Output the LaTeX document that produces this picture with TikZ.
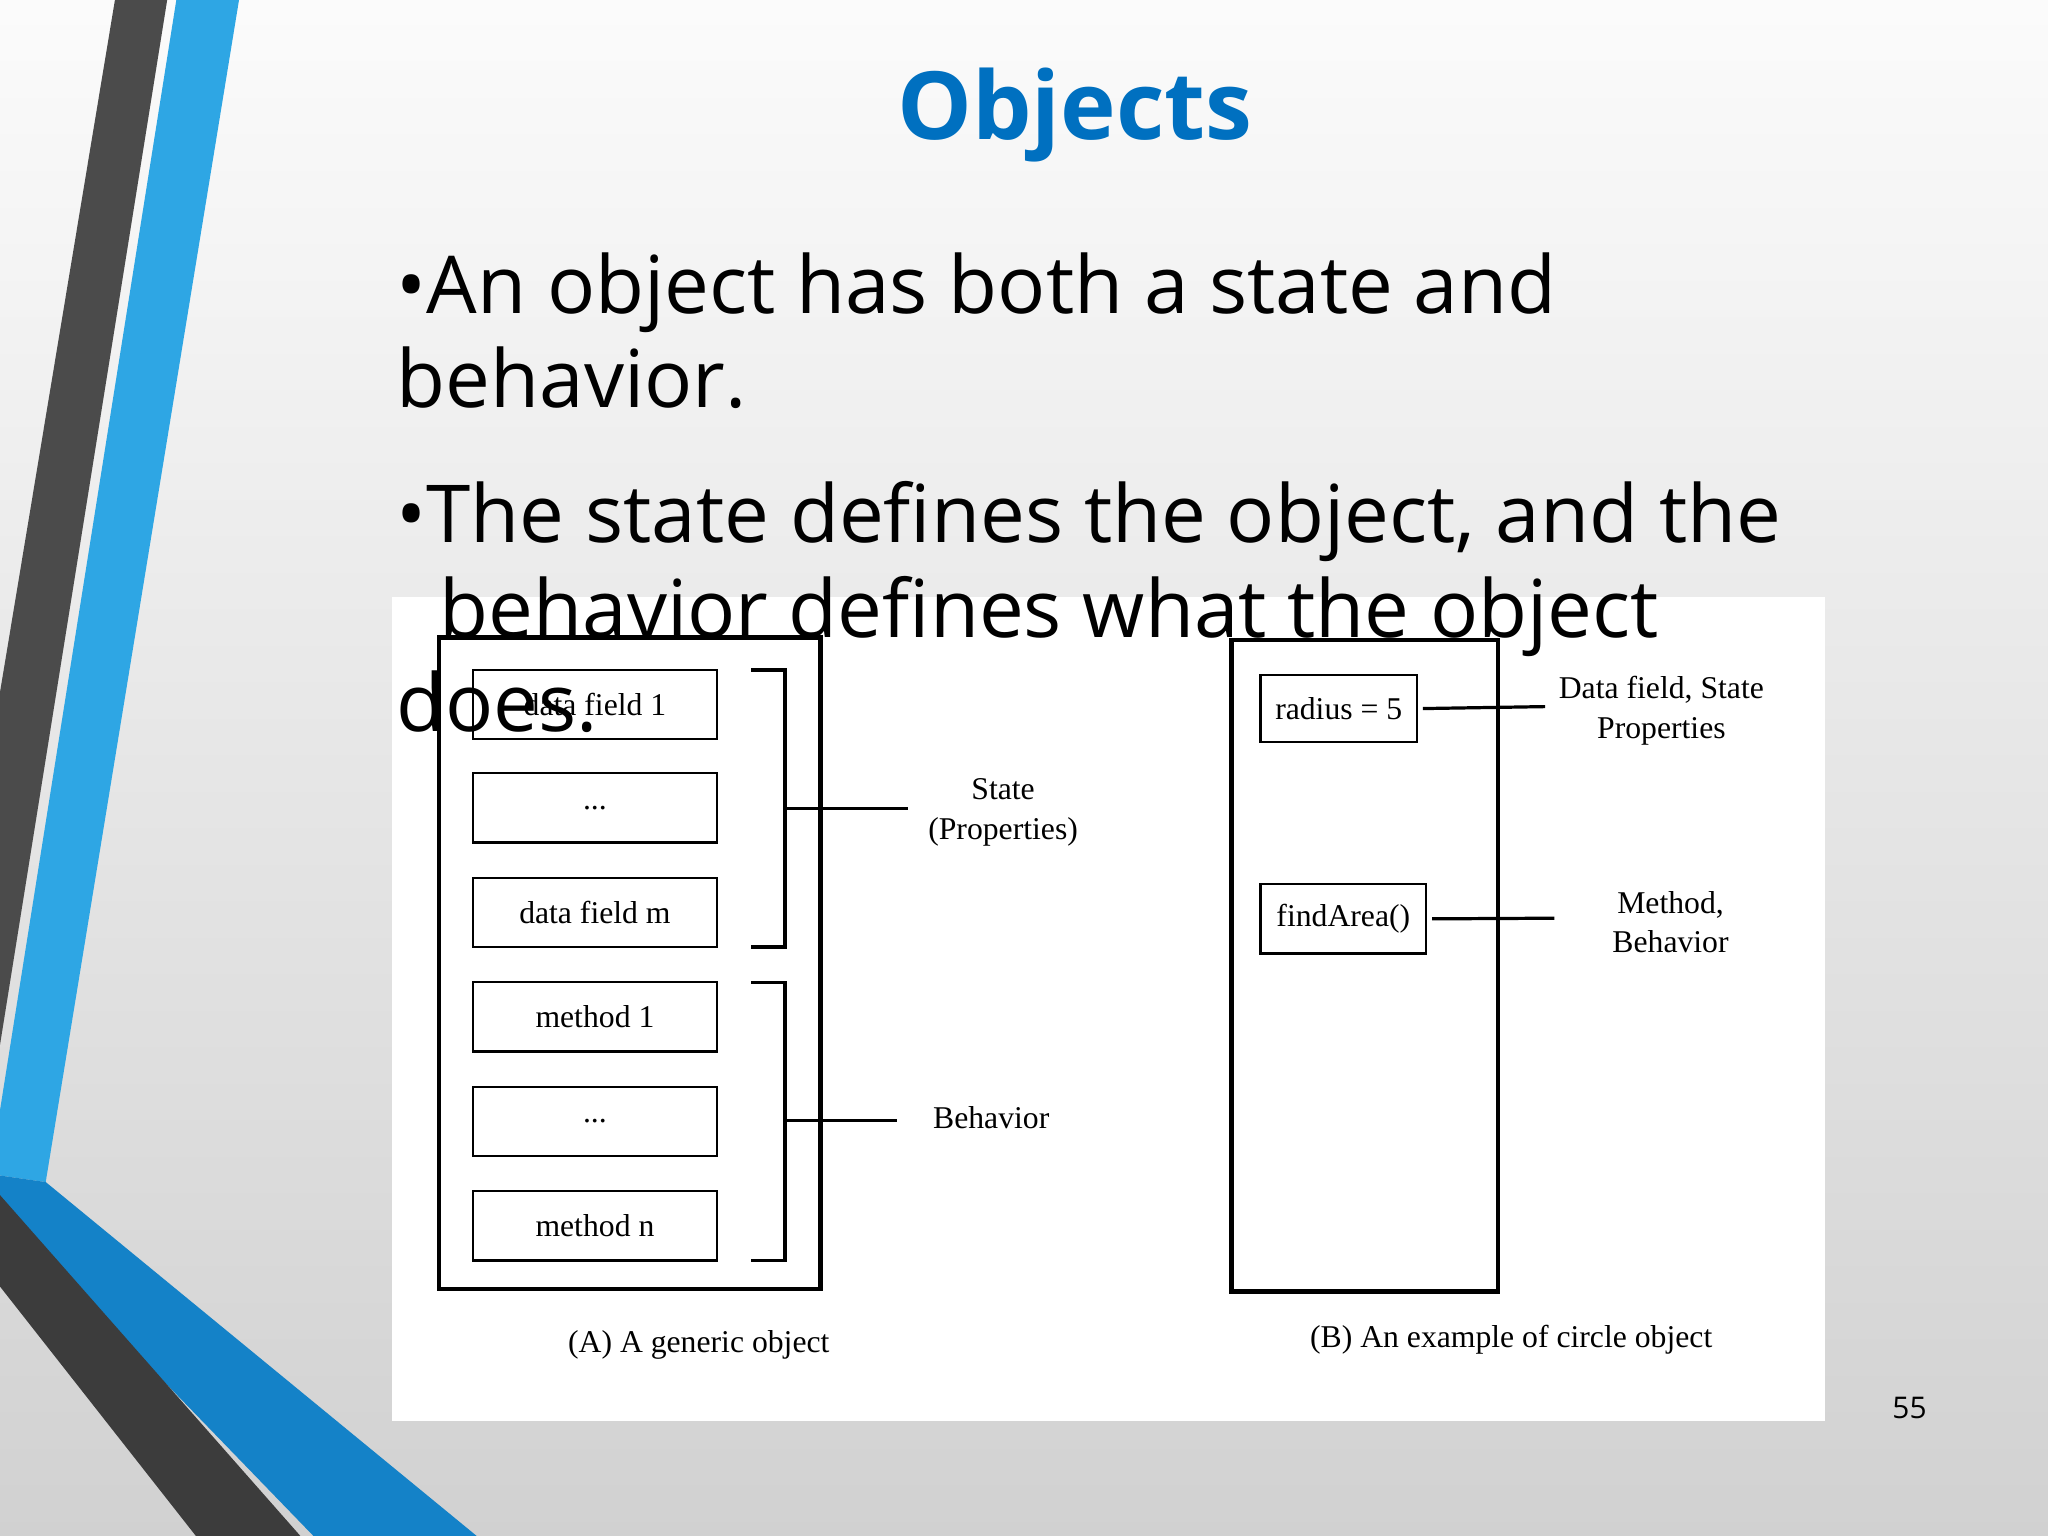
\documentclass[tikz,border=0pt]{standalone}
\usepackage{fontspec}
\setmainfont{Open Sans}
\newfontfamily\tms{Liberation Serif}
\definecolor{ttl}{RGB}{0,112,192}
\definecolor{bl}{RGB}{46,166,228}
\definecolor{bld}{RGB}{20,130,200}
\definecolor{dk}{RGB}{75,75,75}
\begin{document}
\begin{tikzpicture}[x=0.01cm,y=-0.01cm,
  bx/.style={draw,line width=0.5pt,minimum width=1.87cm,minimum height=0.53cm,inner sep=0pt,font=\tms\fontsize{6.9}{8}\selectfont},
  lb/.style={font=\tms\fontsize{6.9}{8.6}\selectfont,align=center},
  bul/.style={anchor=base west,inner sep=0pt,font=\fontsize{17.4}{20}\selectfont},
  ln/.style={line width=0.7pt}]
\useasboundingbox (0,0) rectangle (1568,1176);
\shade[top color=white!97!gray,bottom color=black!18] (0,0) rectangle (1568,1176);
% stripes
\fill[dk] (88,0)--(128,0)--(0,800)--(0,530)--cycle;
\fill[bl] (135,0)--(183,0)--(35,905)--(0,900)--(0,850)--cycle;
\fill[bld] (0,900)--(35,905)--(365,1176)--(240,1176)--(0,928)--cycle;
\fill[dk!80!black] (0,915)--(230,1176)--(150,1176)--(0,985)--cycle;
% panel
\fill[white] (300,457) rectangle (1397,1088);
% title & bullets
\node[font=\bfseries\fontsize{20.5}{24}\selectfont,text=ttl] (title) at (823,88) {Objects};
\node[bul] (t1) at (303,240) {•An object has both a state and};
\node[bul] (t2) at (303,312) {behavior.};
\node[bul] (t3) at (303,415) {•The state defines the object, and the};
\node[bul] (t4) at (336,488) {behavior defines what the object};
\node[bul] (t5) at (303,560) {does.};
% left object
\draw[line width=1pt] (336,488) rectangle (628,987);
\node[bx] (b1) at (455.5,539.5) {data field 1};
\node[bx] (b2) at (455.5,618.5) {...};
\node[bx] (b3) at (455.5,698.5) {data field m};
\node[bx] (b4) at (455.5,778.5) {method 1};
\node[bx] (b5) at (455.5,858.5) {...};
\node[bx] (b6) at (455.5,938.5) {method n};
\draw[ln] (575,513)--(601,513)--(601,725)--(575,725);
\draw[ln] (575,752)--(601,752)--(601,965)--(575,965);
\coordinate (s0) at (601,619); \coordinate (s1) at (695,619);
\coordinate (h0) at (601,858); \coordinate (h1) at (687,858);
\draw[ln] (s0)--(s1); \draw[ln] (h0)--(h1);
\node[lb] (st) at (768,622) {State\\(Properties)};
\node[lb,anchor=west] (bh) at (702,856) {Behavior};
\node[lb] (ca) at (535,1030) {(A) A generic object};
% right object
\draw[line width=1pt] (943,490) rectangle (1147,989);
\node[bx,minimum width=1.2cm,minimum height=0.51cm] (r1) at (1025,542.5) {radius = 5};
\node[bx,minimum width=1.27cm] (r2) at (1028.5,703.5) {findArea()};
\coordinate (e1) at (1183,541); \coordinate (e2) at (1190,703);
\draw[ln] ([xshift=1pt]r1.east)--(e1);
\draw[ln] ([xshift=1pt]r2.east)--(e2);
\node[lb] (df) at (1272,544) {Data field, State\\Properties};
\node[lb] (mb) at (1279,706) {Method,\\Behavior};
\node[lb] (cb) at (1157,1026) {(B) An example of circle object};
\node[font=\fontsize{6.5}{8}\selectfont] (pg) at (1462,1078) {55};
\end{tikzpicture}
\end{document}
